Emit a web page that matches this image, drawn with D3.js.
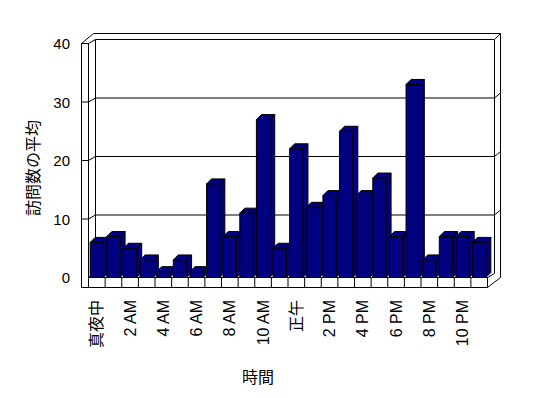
<!DOCTYPE html>
<html>
<head>
<meta charset="utf-8">
<script src="https://cdn.jsdelivr.net/npm/d3@7"></script>
<style>
  body { margin: 0; background: #fff; }
  text { font-family: "Liberation Sans", "Noto Sans CJK JP", sans-serif; fill: #000; }
</style>
</head>
<body>
<div id="chart"></div>
<script>
// 時間帯ごとの訪問数の平均
const hours = ['真夜中', '1 AM', '2 AM', '3 AM', '4 AM', '5 AM', '6 AM', '7 AM', '8 AM', '9 AM', '10 AM', '11 AM',
               '正午', '1 PM', '2 PM', '3 PM', '4 PM', '5 PM', '6 PM', '7 PM', '8 PM', '9 PM', '10 PM', '11 PM'];
const visits = [6, 7, 5, 3, 1, 3, 1, 16, 7, 11, 27, 5,
                22, 12, 14, 25, 14, 17, 7, 33, 3, 7, 7, 6];
const tickLabels = ['真夜中', '2 AM', '4 AM', '6 AM', '8 AM', '10 AM', '正午', '2 PM', '4 PM', '6 PM', '8 PM', '10 PM'];
const yTicks = [0, 10, 20, 30, 40];

const W = 548, H = 398;
const left = 88.5, right = 487.5;   // front edge of the floor
const wallX = 81.5;                 // outer front edge of the left wall
const floorBottom = 287.5;
const dep = [7, -4];                // depth of the plot (front -> back wall)
const bar = [5, -5];                // depth of a column
const navy = '#000080';

const svg = d3.select('#chart').append('svg')
    .attr('width', W)
    .attr('height', H);

const x = d3.scaleBand()
    .domain(hours)
    .range([left, right])
    .paddingInner(0.2)
    .paddingOuter(0.1);

const y = d3.scaleLinear()
    .domain([0, 40])
    .range([277.5, 43.5]);

const line = d3.line();
const poly = pts => line(pts) + 'Z';

const yTop = y(40), yBot = y(0);
const bx = left + dep[0], bxr = right + dep[0];

// back wall & floor surfaces
svg.append('path')
    .attr('d', poly([[wallX, floorBottom], [wallX, yTop], [93.5, 33.5], [500.5, 33.5], [500.5, yBot], [right, floorBottom]]))
    .attr('fill', '#fff').attr('stroke', '#000');

// back wall inner face outline
svg.append('path')
    .attr('d', line([[left, yTop], [bx, yTop + dep[1]], [bxr, yTop + dep[1]], [bxr, yBot + dep[1]], [right, yBot]]))
    .attr('fill', 'none').attr('stroke', '#000');
svg.append('path')
    .attr('d', line([[bxr, yTop + dep[1]], [500.5, 33.5]]))
    .attr('fill', 'none').attr('stroke', '#000');
svg.append('path')
    .attr('d', line([[bx, yTop + dep[1]], [bx, yBot + dep[1]], [left, yBot]]))
    .attr('fill', 'none').attr('stroke', '#000');
svg.append('path')
    .attr('d', line([[left, yTop], [left, yBot], [right, yBot], [right, floorBottom]]))
    .attr('fill', 'none').attr('stroke', '#000');

// gridlines on the back wall and left wall
svg.selectAll('.grid')
    .data(yTicks.filter(d => d > 0 && d < 40))
    .enter().append('path')
    .attr('class', 'grid')
    .attr('d', d => line([[wallX, y(d)], [left, y(d)], [bx, y(d) + dep[1]], [bxr, y(d) + dep[1]], [500.5, y(d) + dep[1] - 5]]))
    .attr('fill', 'none').attr('stroke', '#000');

// columns
const bw = x.bandwidth();
const cols = svg.selectAll('.col')
    .data(hours.map((h, i) => ({h, v: visits[i]})))
    .enter().append('g')
    .attr('class', 'col')
    .attr('fill', navy)
    .attr('stroke', '#000')
    .attr('stroke-linejoin', 'round');

cols.append('path')   // side
    .attr('d', d => {
        const x1 = x(d.h) + bw, t = y(d.v);
        return poly([[x1, yBot], [x1, t], [x1 + bar[0], t + bar[1]], [x1 + bar[0], yBot + bar[1]]]);
    });
cols.append('path')   // top
    .attr('d', d => {
        const x0 = x(d.h), t = y(d.v);
        return poly([[x0, t], [x0 + bar[0], t + bar[1]], [x0 + bw + bar[0], t + bar[1]], [x0 + bw, t]]);
    });
cols.append('rect')   // front
    .attr('x', d => x(d.h))
    .attr('y', d => y(d.v))
    .attr('width', bw)
    .attr('height', d => yBot - y(d.v));

// floor front face with category ticks
svg.append('rect')
    .attr('x', left).attr('y', yBot)
    .attr('width', right - left).attr('height', floorBottom - yBot)
    .attr('fill', '#fff').attr('stroke', '#000');
svg.selectAll('.xtick')
    .data(hours)
    .enter().append('line')
    .attr('x1', d => x(d) - x.step() * 0.1)
    .attr('x2', d => x(d) - x.step() * 0.1)
    .attr('y1', yBot).attr('y2', floorBottom)
    .attr('stroke', '#000');

// left wall front face
svg.append('rect')
    .attr('x', wallX).attr('y', yTop)
    .attr('width', left - wallX).attr('height', floorBottom - yTop)
    .attr('fill', '#fff').attr('stroke', '#000');
svg.selectAll('.ytickmark')
    .data(yTicks.filter(d => d > 0 && d < 40))
    .enter().append('line')
    .attr('x1', wallX).attr('x2', left)
    .attr('y1', d => y(d)).attr('y2', d => y(d))
    .attr('stroke', '#000');

// value axis labels
const yAxis = svg.append('g')
    .attr('transform', 'translate(70,0)')
    .call(d3.axisLeft(y).tickValues(yTicks).tickSize(0).tickPadding(0));
yAxis.select('.domain').remove();
yAxis.selectAll('text')
    .attr('fill', '#000')
    .style('font-family', '"Liberation Sans", sans-serif')
    .style('font-size', '15px')
    .attr('dy', '0.35em');

// category labels (every other hour)
svg.selectAll('.xlabel')
    .data(tickLabels)
    .enter().append('text')
    .attr('class', 'xlabel')
    .attr('transform', d => `translate(${x(d) + bw / 2},300) rotate(-90)`)
    .attr('text-anchor', 'end')
    .attr('dy', '0.35em')
    .style('fill', '#000')
    .style('font-size', '16px')
    .text(d => d);

// axis titles
svg.append('text')
    .attr('transform', 'translate(33,168) rotate(-90)')
    .attr('text-anchor', 'middle')
    .attr('dy', '0.35em')
    .style('fill', '#000')
    .style('font-size', '16px')
    .text('訪問数の平均');

svg.append('text')
    .attr('x', 258).attr('y', 377)
    .attr('text-anchor', 'middle')
    .attr('dy', '0.35em')
    .style('fill', '#000')
    .style('font-size', '16px')
    .text('時間');
</script>
</body>
</html>
